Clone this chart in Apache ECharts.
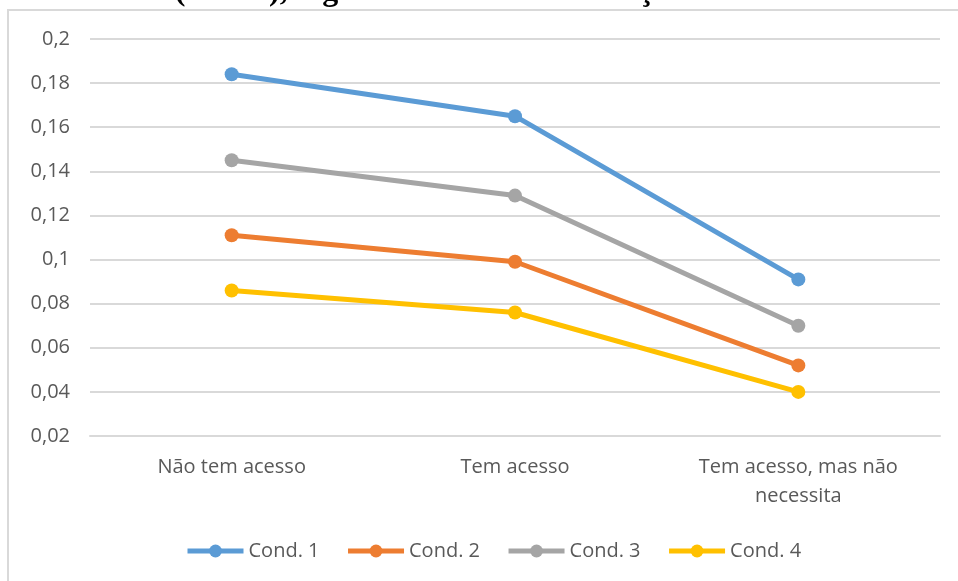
<!DOCTYPE html>
<html>
<head>
<meta charset="utf-8">
<script src="https://cdn.jsdelivr.net/npm/echarts@6/dist/echarts.min.js"></script>
<style>
  html, body { margin: 0; padding: 0; background: #ffffff; }
  #chart { width: 958px; height: 581px; }
</style>
</head>
<body>
<div id="chart"></div>
<script>
// Categories of access to medical services
const categories = ['Não tem acesso', 'Tem acesso', 'Tem acesso, mas não\nnecessita'];

// ICSM values per condition
const cond1 = [0.184, 0.165, 0.091];
const cond2 = [0.111, 0.099, 0.052];
const cond3 = [0.145, 0.129, 0.070];
const cond4 = [0.086, 0.076, 0.040];

const seriesNames = ['Cond. 1', 'Cond. 2', 'Cond. 3', 'Cond. 4'];
const seriesValues = [cond1, cond2, cond3, cond4];
const seriesColors = ['#5B9BD5', '#ED7D31', '#A5A5A5', '#FFC000'];

// Y axis range and step
const yMin = 0.02;
const yMax = 0.2;
const yStep = 0.02;

const captionTail = 'Mental (ICSM), segundo o acesso ao serviços médicos.';

const FONT = '"Open Sans", "Noto Sans", sans-serif';

const chart = echarts.init(document.getElementById('chart'), null, { renderer: 'canvas' });

chart.setOption({
  backgroundColor: '#ffffff',
  animation: false,
  graphic: [
    {
      type: 'rect',
      shape: { x: 8, y: 10, width: 1200, height: 1200 },
      style: { fill: 'none', stroke: '#d9d9d9', lineWidth: 2 },
      silent: true,
      z: -1
    },
    {
      type: 'text',
      x: 69,
      y: 8,
      style: {
        text: captionTail,
        font: 'bold 32px "Liberation Serif", serif',
        fill: '#000000',
        verticalAlign: 'bottom'
      },
      silent: true
    }
  ],
  grid: {
    left: 90,
    right: 18,
    top: 39,
    bottom: 145,
    containLabel: false
  },
  legend: {
    left: 185,
    top: 541,
    padding: 0,
    itemWidth: 56,
    itemHeight: 16,
    itemGap: 26,
    lineStyle: { width: 5 },
    textStyle: { fontFamily: FONT, fontSize: 20, color: '#595959' },
    data: seriesNames
  },
  xAxis: {
    type: 'category',
    data: categories,
    boundaryGap: true,
    axisLine: { show: true, lineStyle: { color: '#d9d9d9', width: 2 } },
    axisTick: { show: false },
    axisLabel: {
      fontFamily: FONT,
      fontSize: 20,
      color: '#595959',
      margin: 17,
      lineHeight: 29,
      align: 'center'
    }
  },
  yAxis: {
    type: 'value',
    min: yMin,
    max: yMax,
    interval: yStep,
    axisLine: { show: false },
    axisTick: { show: false },
    splitLine: { show: true, lineStyle: { color: '#d9d9d9', width: 2 } },
    axisLabel: {
      fontFamily: FONT,
      fontSize: 20,
      color: '#595959',
      margin: 20,
      formatter: function (v) {
        return String(+v.toFixed(2)).replace('.', ',');
      }
    }
  },
  series: seriesNames.map(function (name, i) {
    return {
      name: name,
      type: 'line',
      data: seriesValues[i],
      symbol: 'circle',
      symbolSize: 14,
      lineStyle: { color: seriesColors[i], width: 5 },
      itemStyle: { color: seriesColors[i] },
      z: 10 - i
    };
  })
});
</script>
</body>
</html>
